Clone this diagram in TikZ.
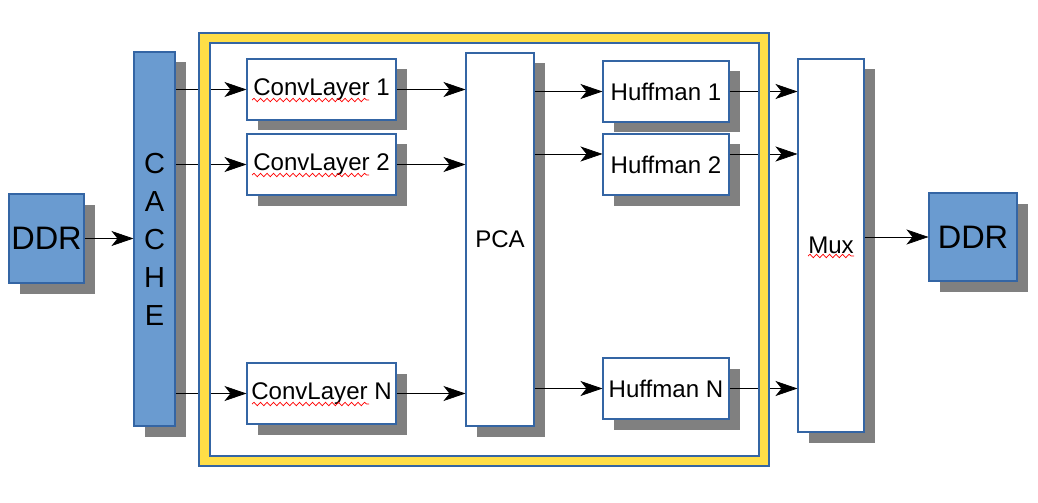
\documentclass[tikz,border=0pt]{standalone}
\usepackage{fontspec}
\setmainfont{Liberation Sans}
\usetikzlibrary{arrows.meta, shadows, decorations.pathmorphing, calc}
\definecolor{boxblue}{HTML}{6A9BD0}
\definecolor{lineblue}{HTML}{3465A4}
\definecolor{frameyellow}{HTML}{FFDE47}

\begin{document}
\begin{tikzpicture}[font=\fontsize{13.7}{16}\selectfont,
            >={Stealth[length=0.44cm, width=0.3cm, inset=0.12cm]},
            sh/.style={drop shadow={shadow xshift=0.21cm, shadow yshift=-0.21cm, fill=gray, opacity=1}},
            b/.style={draw=lineblue, line width=0.6pt, fill=white, sh, inner sep=0pt},
            m/.style={b, fill=boxblue},
            spell/.style={draw=red, line width=0.4pt, decorate, decoration={snake, amplitude=0.035cm, segment length=0.13cm}}]
            \useasboundingbox (0,0) rectangle (20.76,10.04);
            \node[m, minimum width=1.5cm, minimum height=1.78cm, font=\fontsize{18.5}{20}\selectfont] (ddrL) at (0.93,5.27) {DDR};
            \node[m, minimum width=0.82cm, minimum height=7.48cm, align=center, font=\fontsize{16.5}{21.6}\selectfont] (cache) at (3.09,5.26) {C\\A\\C\\H\\E};
            \node[b, minimum width=2.98cm, minimum height=1.22cm] (cl1) at (6.43,8.25) {ConvLayer 1};
            \node[b, minimum width=2.98cm, minimum height=1.22cm] (cl2) at (6.43,6.75) {ConvLayer 2};
            \node[b, minimum width=2.98cm, minimum height=1.22cm] (clN) at (6.43,2.17) {ConvLayer N};
            \node[b, minimum width=1.36cm, minimum height=7.46cm] (pca) at (10.0,5.25) {PCA};
            \node[b, minimum width=2.52cm, minimum height=1.22cm] (hf1) at (13.32,8.21) {Huffman 1};
            \node[b, minimum width=2.52cm, minimum height=1.22cm] (hf2) at (13.32,6.75) {Huffman 2};
            \node[b, minimum width=2.52cm, minimum height=1.22cm] (hfN) at (13.32,2.27) {Huffman N};
            \node[b, minimum width=1.32cm, minimum height=7.46cm] (mux) at (16.62,5.13) {Mux};
            \node[m, minimum width=1.76cm, minimum height=1.76cm, font=\fontsize{18.5}{20}\selectfont] (ddrR) at (19.46,5.3) {DDR};
            % connectors
            \draw[->] (ddrL) -- (ddrL -| cache.west);
            \foreach \n in {cl1,cl2,clN} {
                \draw[->] (cache.east |- \n) -- (\n);
                \draw[->] (\n) -- (pca.west |- \n);
                \draw[spell] ($(\n)+(-1.39,-0.21)$) -- ($(\n)+(0.95,-0.21)$);
            }
            \draw[->] (pca.east |- hf1) -- (hf1);
            \draw[->] ($(pca.east |- hf2)+(0,0.21)$) -- ($(hf2.west)+(0,0.21)$);
            \draw[->] (pca.east |- hfN) -- (hfN);
            \draw[->] (hf1) -- (mux.west |- hf1);
            \draw[->] ($(hf2.east)+(0,0.21)$) -- ($(mux.west |- hf2)+(0,0.21)$);
            \draw[->] (hfN) -- (mux.west |- hfN);
            \draw[->] (mux.east |- ddrR) -- (ddrR);
            \draw[spell] ($(mux)+(-0.46,-0.21)$) -- ($(mux)+(0.46,-0.21)$);
            % yellow frame
            \fill[frameyellow, even odd rule] (3.98,0.72) rectangle (15.38,9.38) (4.2,0.92) rectangle (15.18,9.18);
            \draw[lineblue, line width=0.6pt] (3.98,0.72) rectangle (15.38,9.38) (4.2,0.92) rectangle (15.18,9.18);
        \end{tikzpicture}
\end{document}
